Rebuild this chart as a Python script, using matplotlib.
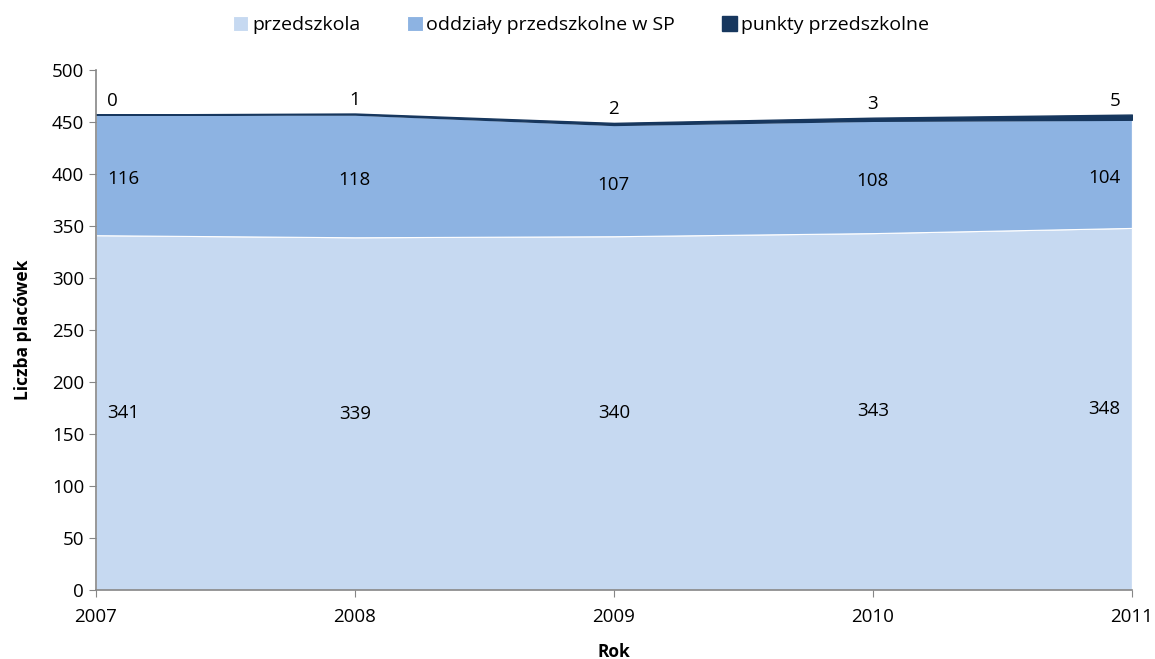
import matplotlib.pyplot as plt

plt.rcParams['font.family'] = ['Open Sans', 'DejaVu Sans']

# dane z wykresu
lata = [2007, 2008, 2009, 2010, 2011]
przedszkola = [341, 339, 340, 343, 348]
oddzialy = [116, 118, 107, 108, 104]
punkty = [0, 1, 2, 3, 5]

kolory = ['#C6D9F1', '#8DB3E2', '#17375E']
etykiety = ['przedszkola', 'oddziały przedszkolne w SP', 'punkty przedszkolne']

fig, ax = plt.subplots(figsize=(11.55, 6.59), dpi=100)
fig.subplots_adjust(left=0.083, right=0.98, top=0.894, bottom=0.105)

polys = ax.stackplot(lata, przedszkola, oddzialy, punkty, colors=kolory,
                     labels=etykiety, edgecolor='white', linewidth=0.8)
polys[2].set_edgecolor(kolory[2])
polys[2].set_linewidth(1.0)

# etykiety danych
fs = 13.5
for i, rok in enumerate(lata):
    if i == 0:
        ha, dx = 'left', 0.043
    elif i == len(lata) - 1:
        ha, dx = 'right', -0.045
    else:
        ha, dx = 'center', 0
    p, o, k = przedszkola[i], oddzialy[i], punkty[i]
    ax.text(rok + dx, p / 2, str(p), ha=ha, va='center', fontsize=fs)
    ax.text(rok + dx, p + o / 2 - 4, str(o), ha=ha, va='center', fontsize=fs)
    ax.text(rok + dx, p + o + k + 13, str(k), ha=ha, va='center', fontsize=fs)

ax.set_xlim(2007, 2011)
ax.set_ylim(0, 500)
ax.set_xticks(lata)
ax.set_yticks(range(0, 501, 50))
ax.tick_params(labelsize=13.5, color='#868686', length=5)
ax.tick_params(axis='x', pad=8)
for s in ['top', 'right']:
    ax.spines[s].set_visible(False)
for s in ['left', 'bottom']:
    ax.spines[s].set_color('#868686')
    ax.spines[s].set_linewidth(1.2)

ax.set_xlabel('Rok', fontsize=12.5, fontweight='bold', labelpad=12)
ax.set_ylabel('Liczba placówek', fontsize=12.5, fontweight='bold', labelpad=14)

# legenda wycentrowana na calym rysunku
fig.legend(loc='center', bbox_to_anchor=(0.503, 0.962), ncol=3, frameon=False,
           fontsize=14, handlelength=0.8, handleheight=0.8, handletextpad=0.2,
           columnspacing=2.4)

plt.savefig('out.png')
